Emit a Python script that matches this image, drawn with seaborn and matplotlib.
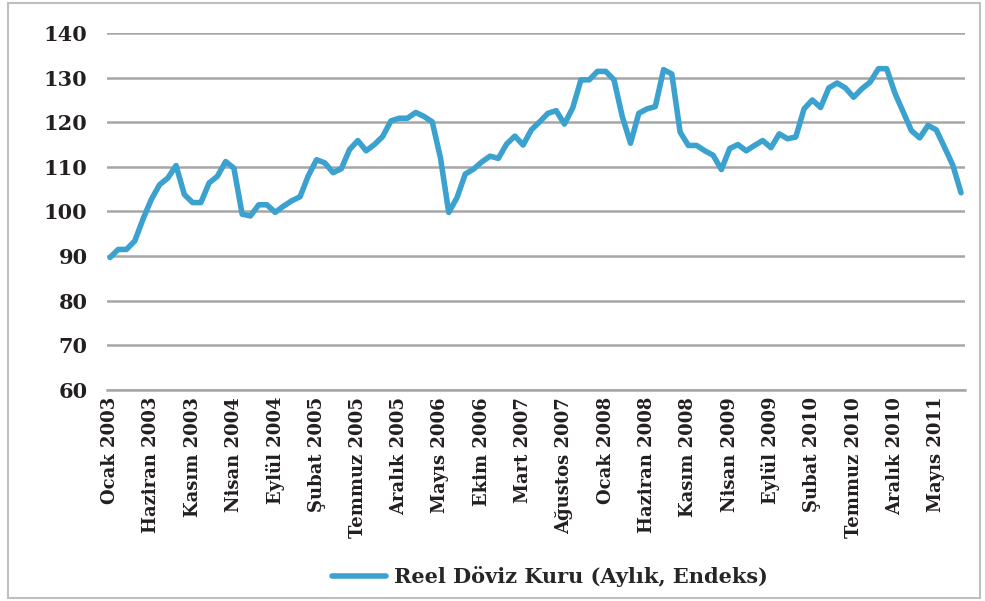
import numpy as np
import pandas as pd
import seaborn as sns
import matplotlib.pyplot as plt
from matplotlib.patches import Rectangle

# Reel Döviz Kuru (Aylık, Endeks), Ocak 2003 - Ağustos 2011
values = [
    89.7, 91.5, 91.5, 93.4, 98.3, 102.7, 106.0, 107.5, 110.3, 103.8,
    102.0, 102.0, 106.4, 107.9, 111.2, 109.7, 99.4, 99.0, 101.5, 101.5,
    99.8, 101.2, 102.4, 103.3, 108.0, 111.6, 110.9, 108.7, 109.6, 113.9,
    115.9, 113.6, 115.0, 116.8, 120.3, 120.9, 120.9, 122.2, 121.3, 120.1,
    112.0, 99.8, 103.1, 108.4, 109.5, 111.1, 112.4, 111.9, 115.1, 116.9,
    114.9, 118.3, 120.1, 122.0, 122.6, 119.6, 123.2, 129.5, 129.5, 131.4,
    131.4, 129.5, 121.3, 115.3, 122.0, 123.0, 123.5, 131.8, 130.8, 117.8,
    114.8, 114.8, 113.6, 112.6, 109.4, 114.1, 115.0, 113.6, 114.8, 115.9,
    114.3, 117.4, 116.3, 116.7, 123.0, 125.0, 123.3, 127.7, 128.8, 127.7,
    125.6, 127.5, 129.0, 132.0, 132.0, 126.5, 122.3, 118.1, 116.5, 119.3,
    118.3, 114.4, 110.4, 104.2,
]

tick_labels = [
    "Ocak 2003", "Haziran 2003", "Kasım 2003", "Nisan 2004", "Eylül 2004",
    "Şubat 2005", "Temmuz 2005", "Aralık 2005", "Mayıs 2006", "Ekim 2006",
    "Mart 2007", "Ağustos 2007", "Ocak 2008", "Haziran 2008", "Kasım 2008",
    "Nisan 2009", "Eylül 2009", "Şubat 2010", "Temmuz 2010", "Aralık 2010",
    "Mayıs 2011",
]
y_ticks = [60, 70, 80, 90, 100, 110, 120, 130, 140]

df = pd.DataFrame({"ay": np.arange(len(values)), "endeks": values})

sns.set_style("white")
plt.rcParams["font.family"] = ["DejaVu Serif"]
plt.rcParams["font.weight"] = "bold"

fig = plt.figure(figsize=(9.85, 6.01), dpi=100)
ax = fig.add_axes([107 / 985, 1 - 390 / 601, 858 / 985, 357 / 601])

sns.lineplot(data=df, x="ay", y="endeks", ax=ax, color="#3ba2cf", linewidth=4,
             label="Reel Döviz Kuru (Aylık, Endeks)")

ax.set_ylim(60, 140)
ax.set_xlim(-0.36, 103.48)
ax.set_yticks(y_ticks)
ax.set_yticklabels([str(v) for v in y_ticks], fontsize=15, fontweight="bold", color="#231f20")
ax.set_xticks(np.arange(0, len(tick_labels) * 5, 5))
ax.set_xticklabels(tick_labels, rotation=90, fontsize=13, fontweight="bold", color="#231f20")
ax.tick_params(axis="both", length=0, pad=5)
ax.tick_params(axis="y", pad=14)
ax.set_xlabel("")
ax.set_ylabel("")

ax.grid(axis="y", color="#a6a6a6", linewidth=1.8)
ax.set_axisbelow(True)
for side in ["top", "right", "left"]:
    ax.spines[side].set_visible(False)
ax.spines["bottom"].set_color("#a6a6a6")
ax.spines["bottom"].set_linewidth(1.8)

ax.get_legend().remove()
handles, labels = ax.get_legend_handles_labels()
fig.legend(handles, labels, loc="center", bbox_to_anchor=(550 / 985, 1 - 577 / 601),
           frameon=False, handlelength=2.6, handletextpad=0.4,
           prop={"size": 15, "weight": "bold"})

fig.patches.append(Rectangle((8 / 985, 3 / 601), 972 / 985, 595 / 601,
                             transform=fig.transFigure, fill=False,
                             edgecolor="#bfbfbf", linewidth=1.5))

fig.savefig("out.png", dpi=100)
